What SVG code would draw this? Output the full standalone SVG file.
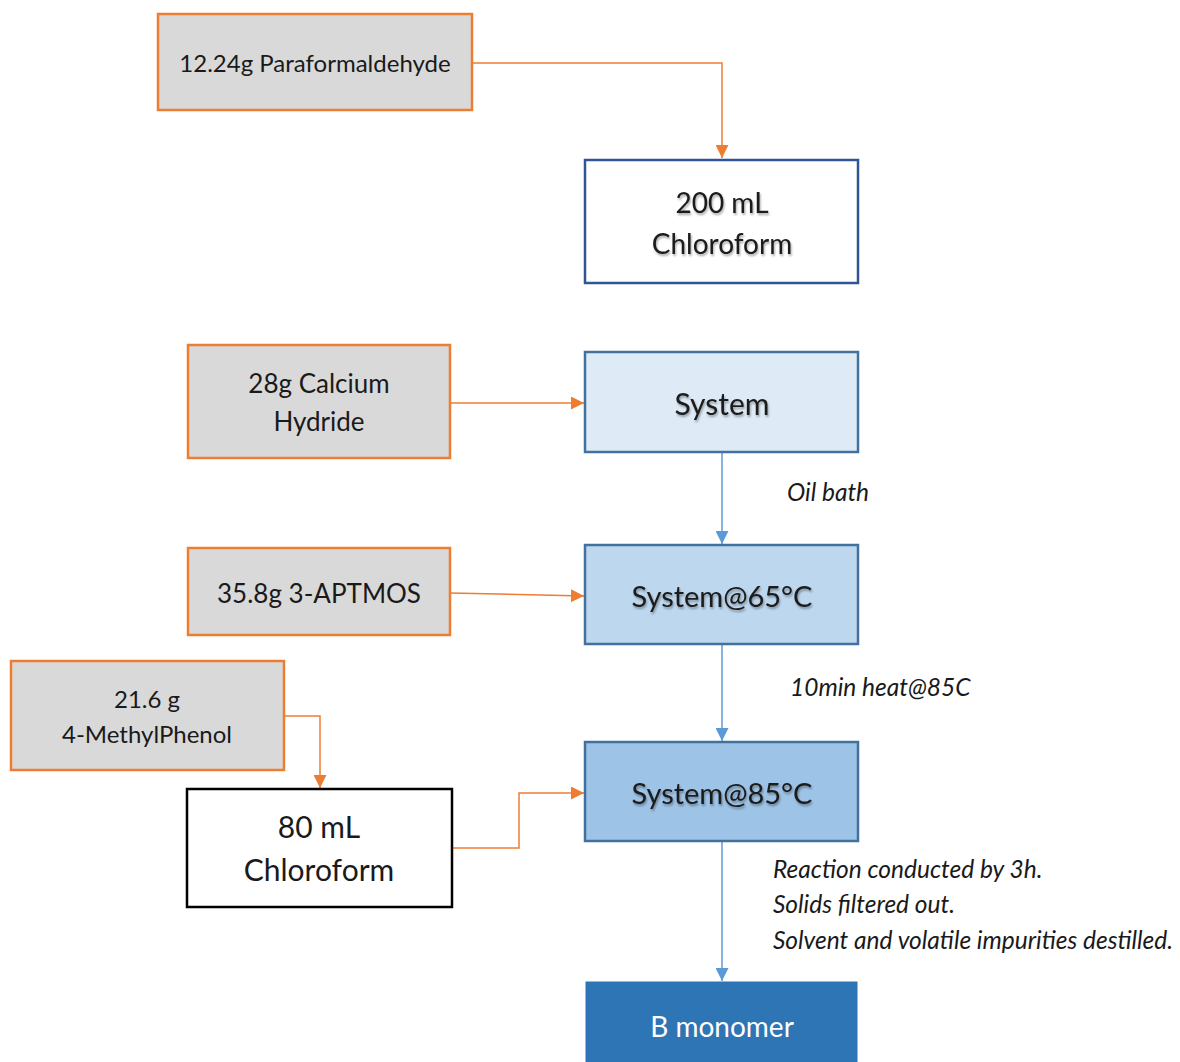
<svg xmlns="http://www.w3.org/2000/svg" width="1180" height="1062" viewBox="0 0 1180 1062">
<defs>
<style>
text{font-family:Lato,"Open Sans","Liberation Sans",sans-serif;fill:#1a1a1a;text-anchor:middle}
.in{fill:#d9d9d9;stroke:#ed7d31;stroke-width:2.5}
.sol{fill:#ffffff;stroke:#2f5597;stroke-width:2.5}
.sys{stroke:#41719c;stroke-width:2.5}
.o{fill:none;stroke:#ed7d31;stroke-width:1.5}
.b{fill:none;stroke:#5b9bd5;stroke-width:1.5}
.lab{font-style:italic;text-anchor:start;font-size:24.5px}
.sh{filter:url(#ts)}
</style>
<marker id="ao" viewBox="0 0 10 10" refX="10" refY="5" markerWidth="13" markerHeight="13" markerUnits="userSpaceOnUse" orient="auto"><path d="M0,0L10,5L0,10z" fill="#ed7d31"/></marker>
<marker id="ab" viewBox="0 0 10 10" refX="10" refY="5" markerWidth="13" markerHeight="13" markerUnits="userSpaceOnUse" orient="auto"><path d="M0,0L10,5L0,10z" fill="#5b9bd5"/></marker>
<filter id="ts" x="-10%" y="-30%" width="120%" height="160%"><feGaussianBlur in="SourceAlpha" stdDeviation="1.2"/><feOffset dx="1" dy="1.5"/><feComponentTransfer><feFuncA type="linear" slope="0.35"/></feComponentTransfer><feMerge><feMergeNode/><feMergeNode in="SourceGraphic"/></feMerge></filter>
</defs>
<rect width="1180" height="1062" fill="#ffffff"/>
<g id="connectors">
<path class="o" d="M472,63H722V158" marker-end="url(#ao)"/>
<path class="o" d="M450,403H584" marker-end="url(#ao)"/>
<path class="o" d="M450,593L584,596" marker-end="url(#ao)"/>
<path class="o" d="M284,716H320V788" marker-end="url(#ao)"/>
<path class="o" d="M452,848H519V793H584" marker-end="url(#ao)"/>
<path class="b" d="M722,452V544" marker-end="url(#ab)"/>
<path class="b" d="M722,644V741" marker-end="url(#ab)"/>
<path class="b" d="M722,841V981" marker-end="url(#ab)"/>
<text class="lab" x="787" y="501">Oil bath</text>
<text class="lab" x="790" y="696">10min heat@85C</text>
<text class="lab" x="773" y="878">Reaction conducted by 3h.</text>
<text class="lab" x="773" y="913">Solids filtered out.</text>
<text class="lab" x="773" y="949">Solvent and volatile impurities destilled.</text>
</g>
<g id="paraformaldehyde">
<rect class="in" x="158" y="14" width="314" height="96"/>
<text x="315" y="72" font-size="24">12.24g Paraformaldehyde</text>
</g>
<g id="chloroform200">
<rect class="sol" x="585" y="160" width="273" height="123"/>
<text class="sh" x="722" y="213" font-size="28">200 mL</text>
<text class="sh" x="722" y="254" font-size="28">Chloroform</text>
</g>
<g id="calcium">
<rect class="in" x="188" y="345" width="262" height="113"/>
<text x="319" y="393" font-size="26">28g Calcium</text>
<text x="319" y="431" font-size="26">Hydride</text>
</g>
<g id="system">
<rect class="sys" x="585" y="352" width="273" height="100" fill="#deebf7"/>
<text class="sh" x="722" y="415" font-size="30">System</text>
</g>
<g id="aptmos">
<rect class="in" x="188" y="548" width="262" height="87"/>
<text x="319" y="603" font-size="26">35.8g 3-APTMOS</text>
</g>
<g id="system65">
<rect class="sys" x="585" y="545" width="273" height="99" fill="#bdd7ee"/>
<text class="sh" x="722" y="607" font-size="29">System@65°C</text>
</g>
<g id="methylphenol">
<rect class="in" x="11" y="661" width="273" height="109"/>
<text x="147" y="708" font-size="24">21.6 g</text>
<text x="147" y="743" font-size="24">4-MethylPhenol</text>
</g>
<g id="chloroform80">
<rect x="187" y="789" width="265" height="118" fill="#ffffff" stroke="#000000" stroke-width="2.5"/>
<text x="319" y="838" font-size="30">80 mL</text>
<text x="319" y="881" font-size="30">Chloroform</text>
</g>
<g id="system85">
<rect class="sys" x="585" y="742" width="273" height="99" fill="#9dc3e6"/>
<text class="sh" x="722" y="804" font-size="29">System@85°C</text>
</g>
<g id="bmonomer">
<rect x="586" y="982" width="271" height="90" fill="#2e75b6" stroke="#2e75b6" stroke-width="1"/>
<text x="722" y="1037" font-size="28" style="fill:#ffffff">B monomer</text>
</g>
</svg>
